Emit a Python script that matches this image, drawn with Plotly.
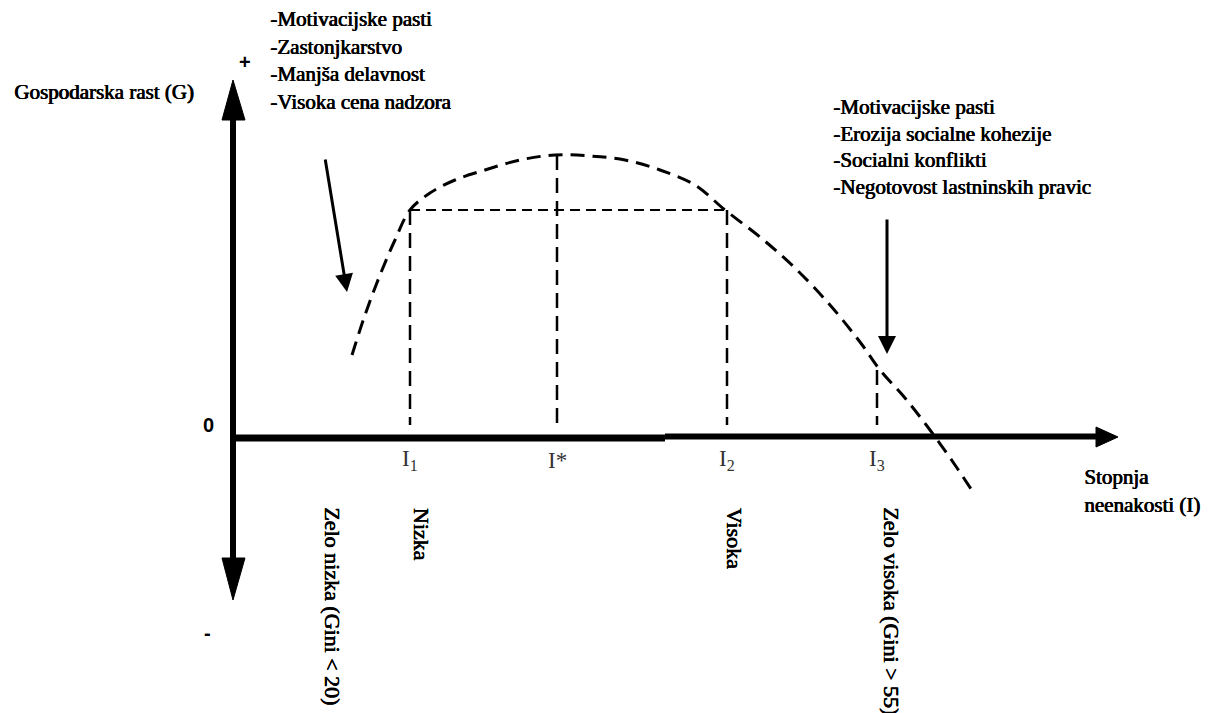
import plotly.graph_objects as go

# Diagram coordinates (pixel-like units, y grows downward)
curve_x = [352, 365, 380, 395, 410, 430, 455, 485, 520, 555, 590, 625, 660, 695, 725, 760, 795, 830, 860, 880, 905, 930, 955, 975]
curve_y = [355, 315, 275, 240, 210, 193, 180, 170, 160, 155, 156, 160, 170, 185, 210, 237, 268, 305, 342, 370, 398, 430, 465, 495]

drop_x = [410, 557, 727, 877]
drop_top = [210, 155, 210, 370]
axis_y0 = 437

level_x = [410, 727]
level_y = [210, 210]

i_labels = ["I<sub>1</sub>", "I*", "I<sub>2</sub>", "I<sub>3</sub>"]
bottom_labels = ["Zelo nizka (Gini < 20)", "Nizka", "Visoka", "Zelo visoka (Gini > 55)"]
bottom_x = [333, 421, 734, 892]

left_notes = ["-Motivacijske pasti", "-Zastonjkarstvo", "-Manjša delavnost", "-Visoka cena nadzora"]
right_notes = ["-Motivacijske pasti", "-Erozija socialne kohezije", "-Socialni konflikti", "-Negotovost lastninskih pravic"]

SERIF = "Liberation Serif, Times New Roman, serif"
FAKE_BOLD = "0.8px 0 0 #000, 0.4px 0 0 #000"
BOLD = dict(family=SERIF, size=21, color="black", shadow=FAKE_BOLD)
BOLD_ROT = dict(family=SERIF, size=22, color="black", shadow=FAKE_BOLD)

fig = go.Figure()

fig.add_trace(go.Scatter(x=curve_x, y=curve_y, mode="lines",
                         line=dict(color="black", width=3, dash="14px,8px", shape="spline"),
                         hoverinfo="skip"))
fig.add_trace(go.Scatter(x=level_x, y=level_y, mode="lines",
                         line=dict(color="black", width=2, dash="10px,6px"), hoverinfo="skip"))
for dx, dt in zip(drop_x, drop_top):
    fig.add_trace(go.Scatter(x=[dx, dx], y=[dt, axis_y0 - 12], mode="lines",
                             line=dict(color="black", width=2.5, dash="15px,8px"), hoverinfo="skip"))

# axes
fig.add_trace(go.Scatter(x=[233, 233], y=[115, 565], mode="lines",
                         line=dict(color="black", width=6), hoverinfo="skip"))
fig.add_trace(go.Scatter(x=[233, 665], y=[axis_y0 + 1, axis_y0 + 1], mode="lines",
                         line=dict(color="black", width=7), hoverinfo="skip"))
fig.add_trace(go.Scatter(x=[665, 1100], y=[axis_y0 - 0.5, axis_y0 - 0.5], mode="lines",
                         line=dict(color="black", width=6), hoverinfo="skip"))
fig.add_trace(go.Scatter(x=[222, 233, 245, 222], y=[120, 80, 120, 120], mode="lines", fill="toself",
                         fillcolor="black", line=dict(color="black", width=1), hoverinfo="skip"))
fig.add_trace(go.Scatter(x=[222, 233, 245, 222], y=[558, 600, 558, 558], mode="lines", fill="toself",
                         fillcolor="black", line=dict(color="black", width=1), hoverinfo="skip"))
fig.add_trace(go.Scatter(x=[1096, 1118, 1096, 1096], y=[427, 437, 447, 427], mode="lines", fill="toself",
                         fillcolor="black", line=dict(color="black", width=1), hoverinfo="skip"))

ann = []
ann.append(dict(x=347, y=292, ax=325, ay=158, xref="x", yref="y", axref="x", ayref="y",
                showarrow=True, arrowhead=2, arrowsize=1.2, arrowwidth=3, arrowcolor="black", text=""))
ann.append(dict(x=887, y=354, ax=887, ay=218, xref="x", yref="y", axref="x", ayref="y",
                showarrow=True, arrowhead=2, arrowsize=1.2, arrowwidth=3, arrowcolor="black", text=""))

for lx, lt in zip(drop_x, i_labels):
    ann.append(dict(x=lx, y=460, text=lt, showarrow=False, xref="x", yref="y",
                    font=dict(family=SERIF, size=23, color="#333333")))

for bx, bt in zip(bottom_x, bottom_labels):
    ann.append(dict(x=bx, y=505, text=bt, showarrow=False, xref="x", yref="y",
                    textangle=90, xanchor="center", yanchor="top", font=BOLD_ROT))

for i, t in enumerate(left_notes):
    ann.append(dict(x=268, y=19 + i * 27.5, text=t, showarrow=False, xref="x", yref="y",
                    xanchor="left", yanchor="middle", font=BOLD))
for i, t in enumerate(right_notes):
    ann.append(dict(x=831, y=107 + i * 26.7, text=t, showarrow=False, xref="x", yref="y",
                    xanchor="left", yanchor="middle", font=BOLD))

ann.append(dict(x=12, y=92, text="Gospodarska rast (G)", showarrow=False, xref="x", yref="y",
                xanchor="left", yanchor="middle", font=BOLD))
ann.append(dict(x=1082, y=477, text="Stopnja", showarrow=False, xref="x", yref="y",
                xanchor="left", yanchor="middle", font=BOLD))
ann.append(dict(x=1082, y=505, text="neenakosti (I)", showarrow=False, xref="x", yref="y",
                xanchor="left", yanchor="middle", font=BOLD))
SANS = dict(family="Liberation Sans, Arial, sans-serif", size=20, color="black", weight=700)
ann.append(dict(x=245, y=62, text="+", showarrow=False, xref="x", yref="y", font=SANS))
ann.append(dict(x=208, y=425, text="0", showarrow=False, xref="x", yref="y", font=SANS))
ann.append(dict(x=207, y=633, text="-", showarrow=False, xref="x", yref="y", font=SANS))

fig.update_layout(
    width=1212, height=713,
    margin=dict(l=0, r=0, t=0, b=0),
    paper_bgcolor="white", plot_bgcolor="white",
    showlegend=False,
    annotations=ann,
    xaxis=dict(range=[8, 1220], visible=False, fixedrange=True),
    yaxis=dict(range=[721, 8], visible=False, fixedrange=True),
)

fig.write_html("out.html")
